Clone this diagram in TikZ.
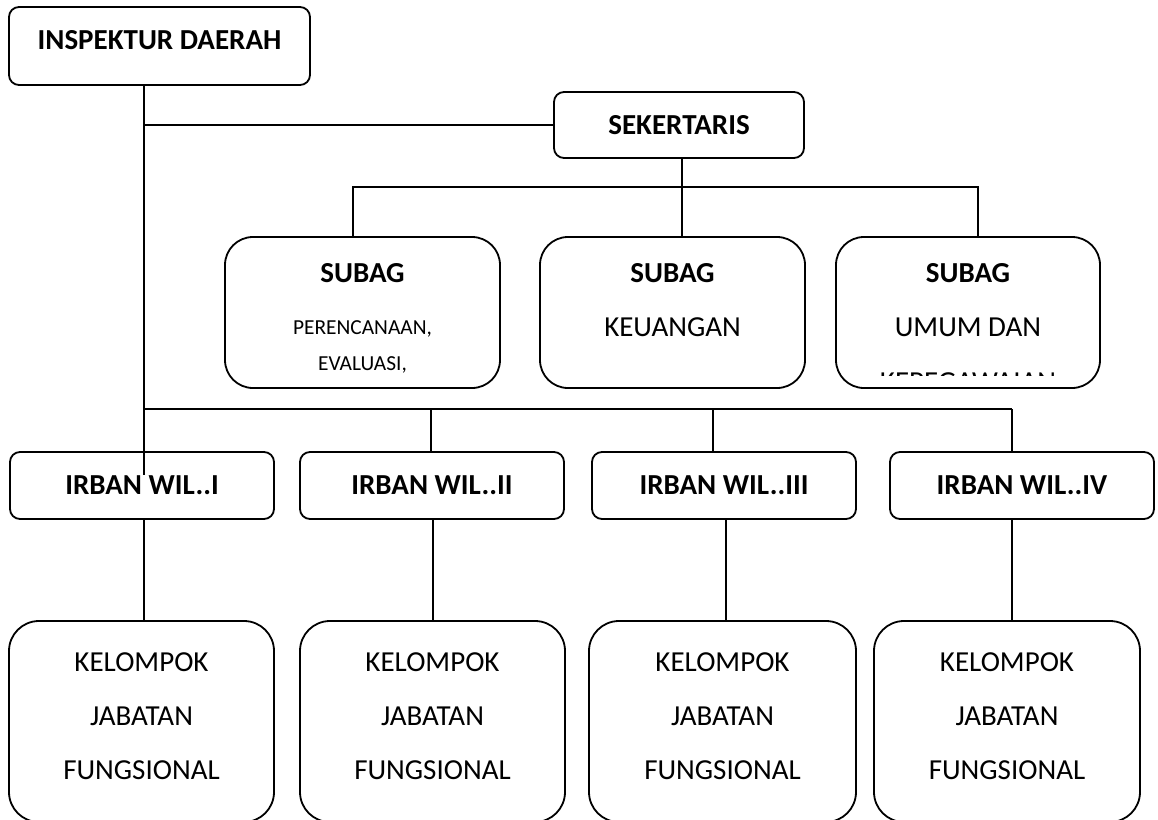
\documentclass[tikz,border=0pt]{standalone}
\usepackage{fontspec}
\setmainfont{Carlito}
\begin{document}
\begin{tikzpicture}[x=0.5pt,y=-0.5pt,line width=0.9pt,
	kotak/.style={draw, rectangle, rounded corners=5pt, inner sep=0pt},
	bulat/.style={draw, rectangle, rounded corners=14pt, inner sep=0pt},
	judul/.style={anchor=base, inner sep=0pt, font=\fontsize{14.5}{17}\selectfont\bfseries},
	isi/.style={anchor=base, inner sep=0pt, font=\fontsize{14.5}{17}\selectfont},
	kecil/.style={anchor=base, inner sep=0pt, font=\fontsize{10.7}{13}\selectfont}]
	\useasboundingbox (0,0) rectangle (1158,820);
	
	% kepala dan sekretariat
	\draw (159.5,46) node[kotak, minimum width=150.5pt, minimum height=39pt] (insp) {};
	\draw (159.5,49) node[judul] (tinsp) {INSPEKTUR DAERAH};
	\draw (679,125) node[kotak, minimum width=125pt, minimum height=33pt] (sek) {};
	\draw (679,134) node[judul] (tsek) {SEKERTARIS};
	
	% subbagian
	\draw (362.5,312.5) node[bulat, minimum width=137.5pt, minimum height=75.5pt] (sub1) {};
	\draw (672.5,312.5) node[bulat, minimum width=132.5pt, minimum height=75.5pt] (sub2) {};
	\draw (968,312.5)   node[bulat, minimum width=132pt, minimum height=75.5pt] (sub3) {};
	\draw (362.5,282) node[judul] (ts1) {SUBAG};
	\draw (362.5,334) node[kecil] (ts1a) {PERENCANAAN,};
	\draw (362.5,370) node[kecil] (ts1b) {EVALUASI,};
	\draw (672.5,282) node[judul] (ts2) {SUBAG};
	\draw (672.5,336) node[isi] (ts2a) {KEUANGAN};
	\draw (968,282) node[judul] (ts3) {SUBAG};
	\draw (968,336) node[isi] (ts3a) {UMUM DAN};
	\begin{scope}
		\clip (836,237) rectangle (1100,375);
		\draw (968,391) node[isi] (ts3b) {KEPEGAWAIAN};
	\end{scope}
	
	% irban wilayah
	\draw (142,485.5)  node[kotak, minimum width=132pt, minimum height=33.5pt] (irb1) {};
	\draw (432,485.5)  node[kotak, minimum width=132pt, minimum height=33.5pt] (irb2) {};
	\draw (724,485.5)  node[kotak, minimum width=132pt, minimum height=33.5pt] (irb3) {};
	\draw (1022,485.5) node[kotak, minimum width=132pt, minimum height=33.5pt] (irb4) {};
	\draw (142,494)  node[judul] (ti1) {IRBAN WIL..I};
	\draw (432,494)  node[judul] (ti2) {IRBAN WIL..II};
	\draw (724,494)  node[judul] (ti3) {IRBAN WIL..III};
	\draw (1022,494) node[judul] (ti4) {IRBAN WIL..IV};
	
	% kelompok jabatan fungsional
	\draw (141.5,721.5) node[bulat, rounded corners=15pt, minimum width=132.5pt, minimum height=100.5pt] (kel1) {};
	\draw (432.5,721.5) node[bulat, rounded corners=15pt, minimum width=132.5pt, minimum height=100.5pt] (kel2) {};
	\draw (722.5,721.5) node[bulat, rounded corners=15pt, minimum width=133.5pt, minimum height=100.5pt] (kel3) {};
	\draw (1007,721.5)  node[bulat, rounded corners=15pt, minimum width=133pt, minimum height=100.5pt] (kel4) {};
	\foreach \n/\x in {1/141.5, 2/432.5, 3/722.5, 4/1007} {
		\draw (\x,671) node[isi] (tk\n a) {KELOMPOK};
		\draw (\x,725) node[isi] (tk\n b) {JABATAN};
		\draw (\x,779) node[isi] (tk\n c) {FUNGSIONAL};
	}
	
	% garis
	\coordinate (t1) at (144,475);
	\draw (insp.south -| t1) -- (t1);
	\draw (sek.west) -- (sek.west -| t1);
	\coordinate (s1) at (682,187);
	\draw (sek.south -| s1) -- (sub2.north -| s1);
	\coordinate (b1) at (353,187);
	\coordinate (b3) at (978,187);
	\draw (sub1.north -| b1) -- (b1) -- (b3) -- (sub3.north -| b3);
	
	\coordinate (c1) at (144,409);
	\coordinate (c2) at (431,409);
	\coordinate (c3) at (713,409);
	\coordinate (c4) at (1012,409);
	\draw (c1) -- (c4);
	\foreach \i in {2,3,4}
		\draw (c\i) -- (irb\i.north -| c\i);
	
	\coordinate (d1) at (144,0);
	\coordinate (d2) at (433,0);
	\coordinate (d3) at (726,0);
	\coordinate (d4) at (1012,0);
	\foreach \i in {1,...,4}
		\draw (irb\i.south -| d\i) -- (kel\i.north -| d\i);
\end{tikzpicture}
\end{document}
